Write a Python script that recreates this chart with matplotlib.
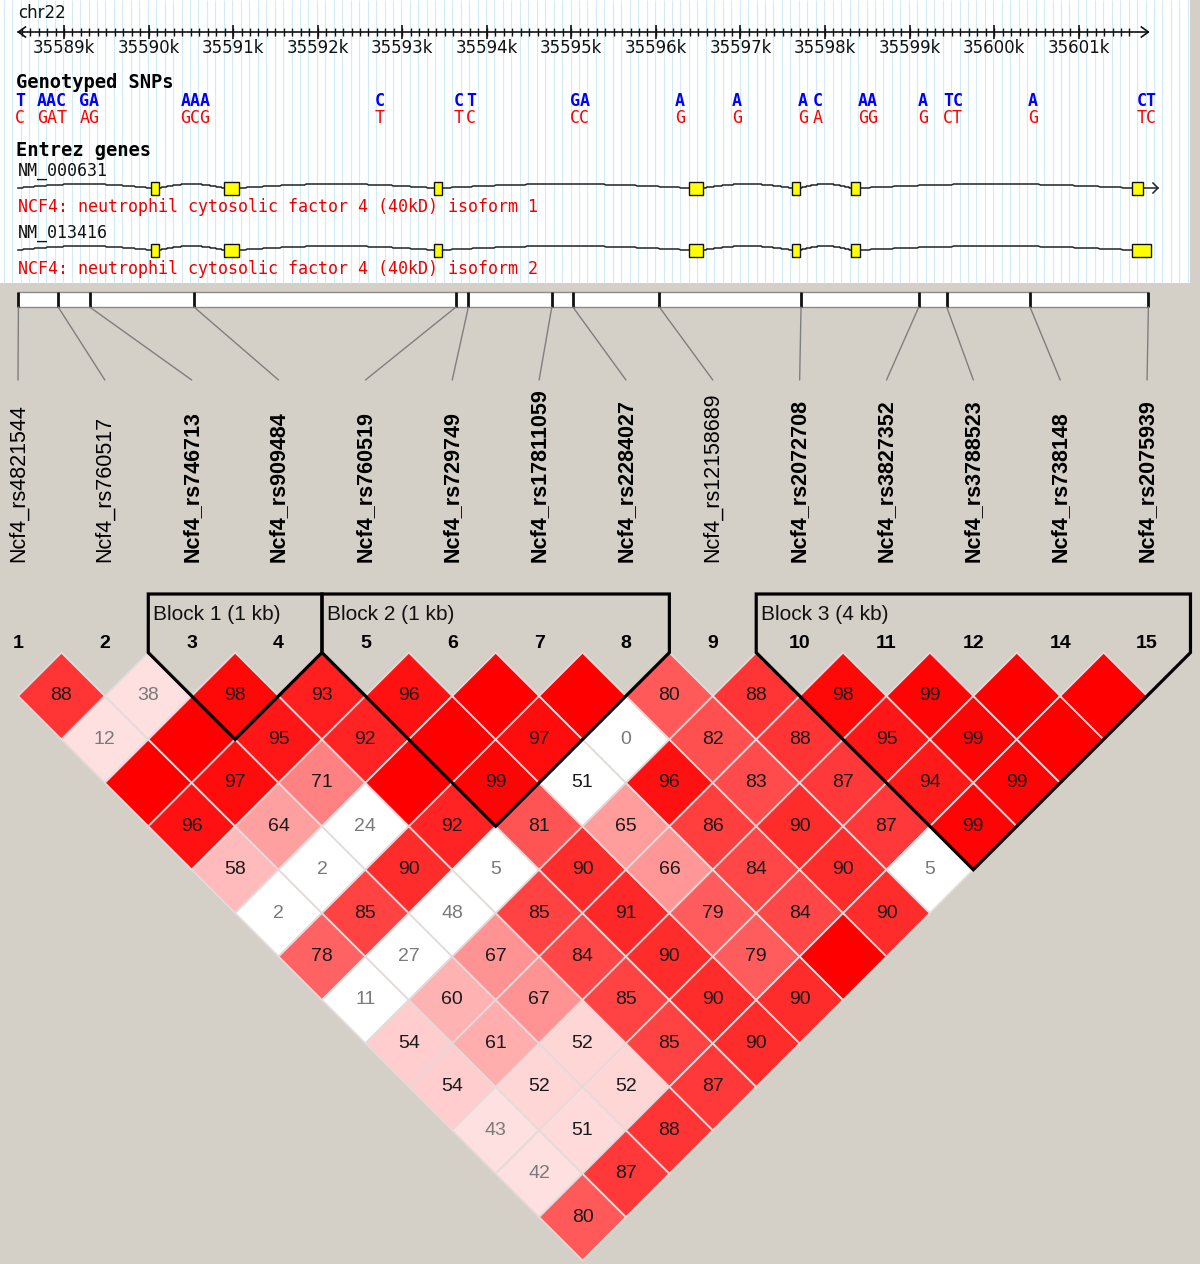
import numpy as np
import matplotlib
matplotlib.use('Agg')
import matplotlib.pyplot as plt
from matplotlib.patches import Polygon, Rectangle, ConnectionPatch

# Datos de los marcadores
marker_nums = [1, 2, 3, 4, 5, 6, 7, 8, 9, 10, 11, 12, 14, 15]
marker_names = ['Ncf4_rs4821544', 'Ncf4_rs760517', 'Ncf4_rs746713', 'Ncf4_rs909484',
                'Ncf4_rs760519', 'Ncf4_rs729749', 'Ncf4_rs17811059', 'Ncf4_rs2284027',
                'Ncf4_rs12158689', 'Ncf4_rs2072708', 'Ncf4_rs3827352', 'Ncf4_rs3788523',
                'Ncf4_rs738148', 'Ncf4_rs2075939']
marker_kb = [35588.461, 35588.931, 35589.303, 35590.537, 35593.636, 35593.782, 35594.769,
             35595.018, 35596.040, 35597.716, 35599.109, 35599.439, 35600.424, 35601.824]

# D' x 100, fila i = marcador i contra los siguientes
dprime_rows = [
    [88, 12, 100, 96, 58, 2, 78, 11, 54, 54, 43, 42, 80],
    [38, 100, 97, 64, 2, 85, 27, 60, 61, 52, 51, 87],
    [98, 95, 71, 24, 90, 48, 67, 67, 52, 52, 88],
    [93, 92, 100, 92, 5, 85, 84, 85, 85, 87],
    [96, 100, 99, 81, 90, 91, 90, 90, 90],
    [100, 97, 51, 65, 66, 79, 79, 90],
    [100, 0, 96, 86, 84, 84, 100],
    [80, 82, 83, 90, 90, 90],
    [88, 88, 87, 87, 5],
    [98, 95, 94, 99],
    [99, 99, 99],
    [100, 100],
    [100],
]
# pares con LOD < 2 (numeros de marcador)
low_lod = [(7, 9), (6, 9), (3, 7), (2, 7), (1, 7), (4, 9), (3, 9), (2, 9), (1, 9), (9, 15)]
blocks = [(3, 4, 'Block 1 (1 kb)'), (5, 8, 'Block 2 (1 kb)'), (10, 15, 'Block 3 (4 kb)')]

# SNPs genotipados (posicion kb, alelo arriba, alelo abajo)
snp_kb = [35588.480, 35588.775, 35588.846, 35588.953, 35589.248, 35589.355, 35590.455,
          35590.549, 35590.656, 35592.737, 35593.671, 35593.813, 35595.043, 35595.150,
          35596.285, 35596.959, 35597.740, 35597.917, 35598.484, 35598.532, 35599.158,
          35599.489, 35599.537, 35600.459, 35601.760, 35601.855]
snp_top = ['T', 'A', 'A', 'C', 'G', 'A', 'A', 'A', 'A', 'C', 'C', 'T', 'G', 'A',
           'A', 'A', 'A', 'C', 'A', 'A', 'A', 'T', 'C', 'A', 'C', 'T']
snp_bot = ['C', 'G', 'A', 'T', 'A', 'G', 'G', 'C', 'G', 'T', 'T', 'C', 'C', 'C',
           'G', 'G', 'G', 'A', 'G', 'G', 'G', 'C', 'T', 'G', 'T', 'C']

chr_ticks = list(range(35589, 35602))

# Genes
gene_ids = ['NM_000631', 'NM_013416']
gene_desc = ['NCF4: neutrophil cytosolic factor 4 (40kD) isoform 1',
             'NCF4: neutrophil cytosolic factor 4 (40kD) isoform 2']
gene_start = 35588.456
exons_1 = [(35590.029, 35590.123), (35590.892, 35591.070), (35593.376, 35593.470),
           (35596.391, 35596.557), (35597.609, 35597.704), (35598.307, 35598.413),
           (35601.630, 35601.760)]
exons_2 = exons_1[:-1] + [(35601.630, 35601.855)]
gene_exons = [exons_1, exons_2]

# Escalas en pixeles
W, H = 1200, 1264
PX_KB = 84.56       # pixeles por kb
X0_KB = 35589 - 64 / PX_KB
STEP = 86.85        # pixeles entre marcadores
TOP_H = 380

bg = '#d4d0c8'
mono = 'DejaVu Sans Mono'
sans = 'Liberation Sans'

fig = plt.figure(figsize=(W / 100, H / 100), dpi=100)
fig.patch.set_facecolor(bg)

# Panel superior (coordenadas x en kb, y en pixeles)
ax_top = fig.add_axes([0, 1 - TOP_H / H, 1, TOP_H / H])
ax_top.set_xlim(X0_KB, X0_KB + W / PX_KB)
ax_top.set_ylim(TOP_H, 0)
ax_top.axis('off')

def kpx(px):
    return px / PX_KB

ax_top.add_patch(Rectangle((X0_KB, 0), kpx(1190), 283, fc='white', ec='none', zorder=0))
guides = np.arange(X0_KB + kpx(4), X0_KB + kpx(1190), 0.1)
ax_top.vlines(guides, 0, 283, color='#d2ecf6', lw=0.8, zorder=0.5)

# eje del cromosoma
a0, a1 = marker_kb[0], marker_kb[-1]
ax_top.plot([a0, a1], [32, 32], color='#111111', lw=1.2)
ax_top.plot([a0 + kpx(7), a0, a0 + kpx(7)], [27, 32, 37], color='#111111', lw=1.2)
ax_top.plot([a1 - kpx(7), a1, a1 - kpx(7)], [27, 32, 37], color='#111111', lw=1.2)
minor = np.arange(np.ceil(a0 * 10) / 10, a1 - 0.15, 0.1)
ax_top.vlines(minor, 28, 36, color='#111111', lw=1)
ax_top.vlines(chr_ticks, 25, 39, color='#111111', lw=1.2)
for t in chr_ticks:
    ax_top.text(t, 48, f'{t}k', ha='center', va='center', fontsize=12,
                family='DejaVu Sans', color='#111111')
ax_top.text(a0, 13, 'chr22', ha='left', va='center', fontsize=12,
            family='DejaVu Sans', color='#111111')

# SNPs genotipados: los que caen muy juntos se escriben en un solo texto
ax_top.text(X0_KB + kpx(16), 82, 'Genotyped SNPs', ha='left', va='center',
            fontsize=13.5, family=mono, weight='bold', color='black')
groups = []
for k, a, b in zip(snp_kb, snp_top, snp_bot):
    if groups and (k - groups[-1][0][-1]) * PX_KB < 10:
        groups[-1][0].append(k)
        groups[-1][1].append(a)
        groups[-1][2].append(b)
    else:
        groups.append(([k], [a], [b]))
for ks, tops, bots in groups:
    xm = np.mean(ks)
    ax_top.text(xm, 101, ''.join(tops), ha='center', va='center', fontsize=12,
                family=mono, weight='bold', color='#0000ff')
    ax_top.text(xm, 118, ''.join(bots), ha='center', va='center', fontsize=12,
                family=mono, color='#ff0000')

# Genes
ax_top.text(X0_KB + kpx(16), 150, 'Entrez genes', ha='left', va='center',
            fontsize=13.5, family=mono, weight='bold', color='black')
for g, (gid, desc, exons) in enumerate(zip(gene_ids, gene_desc, gene_exons)):
    y0 = 188 + g * 62
    ax_top.text(gene_start, y0 - 17, gid, ha='left', va='center', fontsize=12,
                family=mono, color='#111111')
    ax_top.text(gene_start, y0 + 19, desc, ha='left', va='center', fontsize=12,
                family=mono, color='#ee0000')
    # intrones con joroba
    prev = gene_start
    for s, e in exons:
        t = np.linspace(0, 1, 120)
        hump = np.round(4 * np.sin(np.pi * t))
        ax_top.plot(prev + (s - prev) * t, y0 - hump, color='#222222', lw=1.1)
        prev = e
    for s, e in exons:
        ax_top.add_patch(Rectangle((s, y0 - 6.5), e - s, 13, fc='#ffff00',
                                   ec='#111111', lw=1, zorder=3))
    if g == 0:
        tail = prev + kpx(15)
        ax_top.plot([prev, tail], [y0, y0], color='#222222', lw=1.1)
        ax_top.plot([tail - kpx(5), tail, tail - kpx(5)], [y0 - 5, y0, y0 + 5],
                    color='#222222', lw=1.1)

# barra de posiciones
ax_top.add_patch(Rectangle((a0, 292), a1 - a0, 15, fc='white', ec='#8a8a8a', lw=1))
ax_top.vlines(marker_kb, 292, 307, color='#111111', lw=2)

# Panel LD (unidades = distancia entre marcadores)
LD_TOP = 283
ax_ld = fig.add_axes([0, 0, 1, (H - LD_TOP) / H])
ax_ld.set_xlim(-18 / STEP, (W - 18) / STEP)
ax_ld.set_ylim((H - 696) / STEP, (LD_TOP - 696) / STEP)
ax_ld.axis('off')

def py(px):
    return (px - 696) / STEP

n = len(marker_nums)
in_block = set()
for a, b, _ in blocks:
    for m in marker_nums:
        if a <= m <= b:
            in_block.add(m)

# lineas de conexion
for i, k in enumerate(marker_kb):
    con = ConnectionPatch(xyA=(k, 307), coordsA=ax_top.transData,
                          xyB=(i, py(380)), coordsB=ax_ld.transData,
                          color='#7f7f7f', lw=1)
    fig.add_artist(con)

# nombres y numeros
for i, (num, name) in enumerate(zip(marker_nums, marker_names)):
    ax_ld.text(i, py(562), name, rotation=90, ha='center', va='bottom',
               fontsize=15.5, family=sans,
               weight='bold' if num in in_block else 'normal', color='black')
    ax_ld.text(i, py(644), str(num), ha='center', va='center', fontsize=14,
               family=sans, weight='bold', color='black')

# celdas
low = set(low_lod)
for i, row in enumerate(dprime_rows):
    for off, val in enumerate(row):
        j = i + 1 + off
        d = val / 100
        ok = (marker_nums[i], marker_nums[j]) not in low
        if ok and d < 0.5:
            fc = (1, 224 / 255, 224 / 255)
        elif ok:
            gb = int(223 * 2 * (1 - d)) / 255
            fc = (1, gb, gb)
        else:
            fc = (1, 1, 1)
        cx, cy = (i + j) / 2, (j - i - 1) / 2
        ax_ld.add_patch(Polygon([(cx, cy - 0.5), (cx + 0.5, cy), (cx, cy + 0.5), (cx - 0.5, cy)],
                                closed=True, fc=fc, ec='#e4dada', lw=1.3))
        if val < 100:
            ax_ld.text(cx, cy, str(val), ha='center', va='center', fontsize=14,
                       family=sans, color='#7a7a7a' if d < 0.5 else '#1a1a1a')

# bloques
for a, b, lab in blocks:
    ia, ib = marker_nums.index(a), marker_nums.index(b)
    pts = [(ia - 0.5, py(594)), (ia - 0.5, -0.5), ((ia + ib) / 2, (ib - ia - 1) / 2 + 0.5),
           (ib + 0.5, -0.5), (ib + 0.5, py(594))]
    ax_ld.add_patch(Polygon(pts, closed=True, fill=False, ec='black', lw=2.3,
                            joinstyle='miter', zorder=5))
    ax_ld.text(ia - 0.5 + 5 / STEP, py(615), lab, ha='left', va='center',
               fontsize=15, family=sans, color='#111111')

fig.savefig('out.png', dpi=100, facecolor=bg)
